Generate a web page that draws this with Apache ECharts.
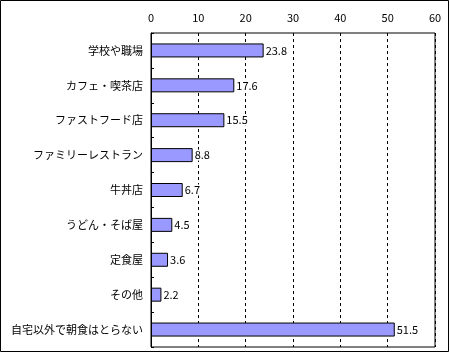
<!DOCTYPE html>
<html>
<head>
<meta charset="utf-8">
<script src="https://cdn.jsdelivr.net/npm/echarts@6/dist/echarts.min.js"></script>
<style>
  html, body { margin: 0; padding: 0; background: #fff; }
  #chart { width: 450px; height: 353px; }
</style>
</head>
<body>
<div id="chart"></div>
<script>
// categories top to bottom
const categories = [
  '学校や職場',
  'カフェ・喫茶店',
  'ファストフード店',
  'ファミリーレストラン',
  '牛丼店',
  'うどん・そば屋',
  '定食屋',
  'その他',
  '自宅以外で朝食はとらない'
];
const values = [23.8, 17.6, 15.5, 8.8, 6.7, 4.5, 3.6, 2.2, 51.5];
const axisMin = 0;
const axisMax = 60;
const axisStep = 10;

const font = '"Noto Sans CJK JP", "Noto Sans", sans-serif';

const chart = echarts.init(document.getElementById('chart'));

chart.setOption({
  animation: false,
  textStyle: { fontFamily: font },
  grid: { left: 151, right: 15, top: 33, bottom: 6, show: true, borderColor: '#000', borderWidth: 1, backgroundColor: 'transparent' },
  xAxis: {
    type: 'value',
    position: 'top',
    min: axisMin,
    max: axisMax,
    interval: axisStep,
    axisLine: { show: false },
    axisTick: { show: false },
    axisLabel: { color: '#000', fontSize: 11, margin: 10, fontFamily: font },
    splitLine: { show: true, lineStyle: { color: '#000', type: [3, 3], width: 1 } }
  },
  yAxis: {
    type: 'category',
    inverse: true,
    data: categories,
    axisLine: { show: true, lineStyle: { color: '#000' } },
    axisTick: { show: true, inside: true, length: 3, lineStyle: { color: '#000' } },
    axisLabel: { color: '#000', fontSize: 11, margin: 8, fontFamily: font }
  },
  series: [{
    type: 'bar',
    data: values,
    barWidth: 14,
    itemStyle: { color: '#9999ff', borderColor: '#000', borderWidth: 1 },
    label: {
      show: true, position: 'right', distance: 1, color: '#000', fontSize: 11, fontFamily: font,
      backgroundColor: '#fff', padding: [0, 1]
    }
  }],
  graphic: [{
    type: 'rect',
    shape: { x: 0.5, y: 0.5, width: 448, height: 351 },
    style: { fill: 'none', stroke: '#000', lineWidth: 1 },
    silent: true
  }]
});
</script>
</body>
</html>
